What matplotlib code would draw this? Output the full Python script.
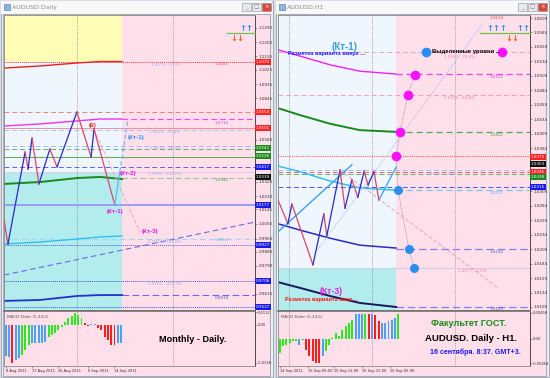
import matplotlib
matplotlib.use('Agg')
import matplotlib.pyplot as plt
from matplotlib.patches import Rectangle

W, H = 550, 378

# ---------------- left window : AUDUSD Daily ----------------
d_xlim = (-0.5, 75.6)
d_ylim = (0.95118, 1.13703)
d_hist_end = 35.3
d_yellow_from = 1.1074
d_teal_to = 1.0381
d_yticks = [1.1290, 1.1200, 1.1110, 1.1025, 1.0935, 1.0845, 1.0585, 1.0320,
            1.0230, 1.0145, 1.0055, 0.9960, 0.9880, 0.9790, 0.9615]

# zigzag of the daily swing
d_zz_x = [-0.5, 0.7, 5.9, 6.8, 8.0, 10.1, 13.4, 15.6, 21.6, 25.9, 26.8, 33.1]
d_zz_y = [1.0079, 0.9927, 1.0507, 1.0400, 1.0595, 1.0306, 1.0526, 1.0413,
          1.0759, 1.0476, 1.0652, 1.0173]
d_kt_x = [33.1, 34.6, 37.1]
d_kt_y = [1.0173, 1.0381, 1.0715]
d_proj_x = [26.8, 40.7]
d_proj_y = [1.0652, 1.0003]
d_diag_x = [-0.5, 75.6]
d_diag_y = [0.9732, 1.0066]

# moving averages
d_ma_x = [-0.5, 10.4, 21.6, 28.6, 35.3]
d_ma_red = [1.1036, 1.1049, 1.1068, 1.1077, 1.1077]
d_ma_mag = [1.0671, 1.0684, 1.0703, 1.0715, 1.0715]
d_ma_grn = [1.0306, 1.0318, 1.0343, 1.0350, 1.0337]
d_ma_cyn = [0.9928, 0.9940, 0.9959, 0.9972, 0.9978]
d_ma_nav = [0.9569, 0.9575, 0.9600, 0.9606, 0.9606]

# horizontal levels
d_levels = [1.1074, 1.0759, 1.0715, 1.0658, 1.0646, 1.0545, 1.0526, 1.0476,
            1.0413, 1.0381, 1.0343, 1.0173, 0.9959, 0.9921, 0.9695, 0.9606, 0.9531]

# MACD Elder histogram
d_macd = [-0.0276, -0.0282, -0.0341, -0.0311, -0.0297, -0.0267, -0.0223, -0.0178,
          -0.0164, -0.0164, -0.0164, -0.0164, -0.0149, -0.0104, -0.0089, -0.0074,
          -0.0044, -0.0015, 0.0030, 0.0059, 0.0080, 0.0103, 0.0089, 0.0059,
          0.0021, -0.0008, 0.0009, 0.0007, -0.0029, -0.0044, -0.0104, -0.0133,
          -0.0178, -0.0178, -0.0164, -0.0164]
d_macd_c = list('bbrbbgggbbbbbgggggggggggrrbbrrrrrrbb')
d_macd_lim = (-0.0365, 0.01246)
d_macd_ticks = [0.0112, 0.0, -0.0338]
d_macd_labels = ['0.0112', '0.00', '-0.0338']
d_dates_x = [0, 8, 16, 25, 33]
d_dates = ['8 Aug 2011', '17 Aug 2011', '26 Aug 2011', '6 Sep 2011', '14 Sep 2011']
d_vgrid = [21.6, 50.7]

# ---------------- right window : AUDUSD H1 ----------------
h_xlim = (-0.5, 75.9)
h_ylim = (1.01038, 1.06142)
h_hist_end = 35.3
h_teal_to = 1.01765
h_yticks = [1.0609, 1.0584, 1.0559, 1.0534, 1.0509, 1.0484, 1.0459, 1.0434, 1.0409,
            1.0384, 1.0309, 1.0284, 1.0259, 1.0234, 1.0209, 1.0184, 1.0159, 1.0134, 1.0109]

h_zz_x = [-0.5, 2.5, 3.7, 10.1, 13.4, 14.3, 18.3, 19.8, 21.9, 23.7, 25.6, 26.8, 28.6, 30.1]
h_zz_y = [1.0294, 1.0253, 1.0287, 1.0182, 1.0270, 1.0232, 1.0346, 1.0280,
          1.0329, 1.0299, 1.0344, 1.0320, 1.0343, 1.0294]
h_trend_x = [-0.5, 21.9]
h_trend_y = [1.0239, 1.0355]
h_up_x = [30.1, 35.3]
h_up_y = [1.0294, 1.0351]
h_dot_line_x = [11.6, 61.3]
h_dot_line_y = [1.0208, 1.0597]
h_proj_x = [18.3, 66.2]
h_proj_y = [1.0346, 1.0142]

h_ma_x = [-0.5, 6.2, 15.3, 24.3, 35.3]
h_ma_mag = [1.0554, 1.0543, 1.0528, 1.0517, 1.0512]
h_ma_grn = [1.0453, 1.0441, 1.0426, 1.0415, 1.0412]
h_ma_cyn = [1.0353, 1.0343, 1.0327, 1.0315, 1.0311]
h_ma_blu = [1.0253, 1.0242, 1.0228, 1.0216, 1.0211]
h_ma_nav = [1.0152, 1.0142, 1.0128, 1.0116, 1.0109]

h_levels = [1.0550, 1.0512, 1.0476, 1.0412, 1.0370, 1.0346, 1.0343, 1.0339,
            1.0317, 1.0311, 1.0209, 1.01765, 1.0109]

# highlighted levels (circles)
h_mag_x = [41.0, 38.9, 36.5, 35.3]
h_mag_y = [1.0510, 1.0476, 1.0412, 1.0370]
h_blu_x = [35.9, 39.2, 40.7]
h_blu_y = [1.0311, 1.0209, 1.01765]

h_macd = [-0.00256, -0.00134, -0.00104, -0.00073, -0.00043, -0.00043, -0.00104, -0.00024,
          -0.00195, -0.00317, -0.00409, -0.00439, -0.00439, -0.00317, -0.00226, -0.00104,
          0.00018, 0.0011, 0.0005, 0.0017, 0.0023, 0.0029, 0.0035, 0.0045,
          0.0045, 0.0045, 0.0045, 0.0045, 0.0046, 0.0043, 0.0032, 0.0029,
          0.0029, 0.0032, 0.0035, 0.0038, 0.0045]
h_macd_c = list('ggggggbgrrrrrbgggggggggbbbgrbrrbbbbbg')
h_macd_lim = (-0.00494, 0.00512)
h_macd_ticks = [0.00476, 0.0, -0.0044]
h_macd_labels = ['0.00458', '0.00', '-0.00458']
h_dates_x = [0, 8.5, 16.5, 25, 33.5]
h_dates = ['14 Sep 2011', '15 Sep 05:00', '15 Sep 13:00', '15 Sep 21:00', '16 Sep 05:00']
h_vgrid = [2.8, 28.0, 53.1]

PINK = '#ffdfea'
ALICE = '#f0f6fe'
YELLOW = '#fffdb6'
TEAL = '#b2ecec'
MACD_COL = {'b': '#4aa2f2', 'r': '#ff1c1c', 'g': '#2ee81e'}
UP = '#2a2ac8'
DOWN = '#dc4468'


def frac(x0, y0, x1, y1):
    return [x0 / W, 1 - y1 / H, (x1 - x0) / W, (y1 - y0) / H]


def style_axes(ax, xlim, ylim):
    ax.set_xlim(*xlim)
    ax.set_ylim(*ylim)
    ax.set_facecolor(PINK)
    ax.yaxis.tick_right()
    ax.tick_params(axis='both', labelsize=3, length=1.5, width=0.4, pad=1,
                   colors='#555555', labelcolor='#303030')
    for s in ax.spines.values():
        s.set_color('#8a8a8a')
        s.set_linewidth(0.6)
    ax.spines['right'].set_color('#303030')


def draw_zigzag(ax, xs, ys):
    for i in range(len(xs) - 1):
        col = UP if ys[i + 1] > ys[i] else DOWN
        ax.plot(xs[i:i + 2], ys[i:i + 2], color=col, lw=0.9, zorder=4)


def draw_macd(ax, vals, cols, xlim, ylim, ticks, labels, dx, dlabels, vgrid):
    style_axes(ax, xlim, ylim)
    ax.bar(range(len(vals)), vals, width=0.6, color=[MACD_COL[c] for c in cols], zorder=3)
    ax.set_yticks(ticks)
    ax.set_yticklabels(labels)
    ax.set_xticks(dx)
    ax.set_xticklabels(dlabels)
    ax.tick_params(axis='both', labelsize=2.6, pad=0.8)
    for lab in ax.get_xticklabels():
        lab.set_ha('left')
    ax.spines['top'].set_color('#707070')
    ax.spines['top'].set_linewidth(1.2)
    for v in vgrid:
        ax.axvline(v, color='#707070', ls=(0, (1, 1.5)), lw=0.5, zorder=1)
    ax.text(0.01, 0.93, 'MACD Elder (5,34,5)', transform=ax.transAxes, fontsize=3,
            color='#555555', va='top')


fig = plt.figure(figsize=(5.5, 3.78), dpi=100)
fig.patch.set_facecolor('#d9dee6')

bg = fig.add_axes([0, 0, 1, 1])
bg.set_xlim(0, W)
bg.set_ylim(H, 0)
bg.axis('off')
for wx0, wx1, title in [(0, 273, 'AUDUSD Daily'), (275, 549, 'AUDUSD,H1')]:
    bg.add_patch(Rectangle((wx0 + 0.5, 0.5), wx1 - wx0 - 1, 376.5, fc='#eceef2', ec='#9aa3b3', lw=0.6))
    bg.add_patch(Rectangle((wx0 + 1, 1), wx1 - wx0 - 2, 12.5, fc='#f8f8f9', ec='none'))
    bg.add_patch(Rectangle((wx0 + 3, 14), wx1 - wx0 - 6, 362, fc=PINK, ec='#8a8f99', lw=0.5))
    bg.add_patch(Rectangle((wx0 + 4, 3.5), 5.5, 6.5, fc='#8fb4e0', ec='#4a6fa0', lw=0.4))
    bg.text(wx0 + 12, 7.5, title, fontsize=4.5, color='#8c8c8c', va='center')
    for k, bx in enumerate([wx1 - 31, wx1 - 21, wx1 - 11]):
        bg.add_patch(Rectangle((bx, 2.5), 9, 8.5, fc='#d9463c' if k == 2 else '#e8eaee',
                               ec='#8a8f99', lw=0.4))
        bg.text(bx + 4.5, 7, ['_', '□', '×'][k], fontsize=4,
                color='white' if k == 2 else '#777777', ha='center', va='center')

# ================= left main chart =================
ax = fig.add_axes(frac(4, 15, 255, 310))
style_axes(ax, d_xlim, d_ylim)
ax.set_xticks([])
ax.set_yticks([t for t in d_yticks])
ax.set_yticklabels([f'{t:.4f}' for t in d_yticks])
ax.add_patch(Rectangle((d_xlim[0], d_yellow_from), d_hist_end - d_xlim[0], d_ylim[1] - d_yellow_from,
                       fc=YELLOW, ec='none', zorder=0))
ax.add_patch(Rectangle((d_xlim[0], d_teal_to), d_hist_end - d_xlim[0], d_yellow_from - d_teal_to,
                       fc=ALICE, ec='none', zorder=0))
ax.add_patch(Rectangle((d_xlim[0], d_ylim[0]), d_hist_end - d_xlim[0], d_teal_to - d_ylim[0],
                       fc=TEAL, ec='none', zorder=0))
for v in d_vgrid:
    ax.axvline(v, color='#707070', ls=(0, (1, 1.5)), lw=0.5, zorder=1)

# (colour, linestyle, width, starts at history end?)
d_level_styles = [
    ('#ff3030', (0, (1, 1)), 0.7, False),
    ('#f08080', (0, (5, 3)), 0.7, False),
    ('#ff40ff', (0, (5, 3)), 0.8, True),
    ('#f08c9c', '-', 0.7, False),
    ('#b4c4f6', (0, (5, 3)), 0.7, False),
    ('#a8bcf6', (0, (5, 3)), 0.7, False),
    ('#6cb06c', (0, (5, 3)), 0.7, False),
    ('#5aa85a', '-', 0.7, False),
    ('#6060f0', (0, (5, 3)), 0.7, False),
    ('#e6c8dc', '-', 0.7, False),
    ('#98c898', (0, (5, 3)), 0.8, True),
    ('#9c9cf4', '-', 1.4, False),
    ('#a6d2f2', (0, (5, 3)), 0.8, False),
    ('#5858e0', (0, (1, 1)), 0.7, False),
    ('#5050d0', (0, (1, 1)), 0.7, False),
    ('#6a6ae6', (0, (6, 3)), 0.8, True),
    ('#5050d0', (0, (1, 1)), 0.7, False),
]
for p, (c, ls, lw, fut) in zip(d_levels, d_level_styles):
    ax.plot([d_hist_end if fut else d_xlim[0], d_xlim[1]], [p, p], color=c, ls=ls, lw=lw, zorder=1)

ax.plot(d_ma_x, d_ma_red, color='#e82020', lw=1.0, zorder=2)
ax.plot(d_ma_x, d_ma_mag, color='#f030f0', lw=1.0, zorder=2)
ax.plot(d_ma_x, d_ma_grn, color='#178a17', lw=1.4, zorder=2)
ax.plot(d_ma_x, d_ma_cyn, color='#30c0f0', lw=1.0, zorder=2)
ax.plot(d_ma_x, d_ma_nav, color='#2230c8', lw=1.3, zorder=2)
ax.plot(d_diag_x, d_diag_y, color='#6a6ae6', ls=(0, (5, 3)), lw=0.8, zorder=2)
ax.plot(d_proj_x, d_proj_y, color='#f4a0c0', ls=(0, (4, 2)), lw=0.7, zorder=3)
draw_zigzag(ax, d_zz_x, d_zz_y)
ax.plot(d_kt_x[:2], d_kt_y[:2], color='#60b8f4', lw=0.9, zorder=4)
ax.plot(d_kt_x[1:], d_kt_y[1:], color='#60b8f4', ls=(0, (4, 2)), lw=0.8, zorder=4)

axm = fig.add_axes(frac(4, 311, 255, 366))
draw_macd(axm, d_macd, d_macd_c, d_xlim, d_macd_lim, d_macd_ticks, d_macd_labels,
          d_dates_x, d_dates, d_vgrid)

# ================= right main chart =================
ax2 = fig.add_axes(frac(278, 15, 530, 310))
style_axes(ax2, h_xlim, h_ylim)
ax2.set_xticks([])
ax2.set_yticks(h_yticks)
ax2.set_yticklabels([f'{t:.4f}' for t in h_yticks])
ax2.add_patch(Rectangle((h_xlim[0], h_teal_to), h_hist_end - h_xlim[0], h_ylim[1] - h_teal_to,
                        fc=ALICE, ec='none', zorder=0))
ax2.add_patch(Rectangle((h_xlim[0], h_ylim[0]), h_hist_end - h_xlim[0], h_teal_to - h_ylim[0],
                        fc=TEAL, ec='none', zorder=0))
for v in h_vgrid:
    ax2.axvline(v, color='#707070', ls=(0, (1, 1.5)), lw=0.5, zorder=1)

h_level_styles = [
    ('#f4a0c4', (0, (5, 3)), 0.7, False),
    ('#f040f0', (0, (5, 3)), 0.9, True),
    ('#f4a0c4', (0, (5, 3)), 0.7, False),
    ('#58a858', (0, (5, 3)), 0.9, True),
    ('#ff6060', (0, (1, 1)), 0.8, False),
    ('#a8bcf6', (0, (5, 3)), 0.7, False),
    ('#f06060', (0, (5, 3)), 0.7, False),
    ('#60b060', (0, (5, 3)), 0.7, False),
    ('#5050f0', (0, (5, 3)), 0.7, False),
    ('#7cc8f0', (0, (5, 3)), 0.9, True),
    ('#8080e8', (0, (6, 3)), 0.9, True),
    ('#cfcfd8', '-', 0.7, False),
    ('#8080e8', (0, (6, 3)), 0.9, True),
]
for p, (c, ls, lw, fut) in zip(h_levels, h_level_styles):
    ax2.plot([h_hist_end if fut else h_xlim[0], h_xlim[1]], [p, p], color=c, ls=ls, lw=lw, zorder=1)

ax2.plot(h_ma_x, h_ma_mag, color='#f020f0', lw=1.0, zorder=2)
ax2.plot(h_ma_x, h_ma_grn, color='#178a17', lw=1.4, zorder=2)
ax2.plot(h_ma_x, h_ma_cyn, color='#30c0f0', lw=1.1, zorder=2)
ax2.plot(h_ma_x, h_ma_blu, color='#2a2ac0', lw=1.1, zorder=2)
ax2.plot(h_ma_x, h_ma_nav, color='#18185a', lw=1.4, zorder=2)
ax2.plot(h_dot_line_x, h_dot_line_y, color='#80b8f0', ls=(0, (1, 1.5)), lw=0.7, zorder=2)
ax2.plot(h_proj_x, h_proj_y, color='#f4a0c0', ls=(0, (4, 2)), lw=0.7, zorder=2)
ax2.plot(h_trend_x, h_trend_y, color='#3aa0f0', lw=1.0, zorder=3)
draw_zigzag(ax2, h_zz_x, h_zz_y)
ax2.plot(h_up_x, h_up_y, color='#3aa0f0', lw=0.9, zorder=4)
path_x = h_blu_x[::-1] + h_mag_x[::-1]
path_y = h_blu_y[::-1] + h_mag_y[::-1]
ax2.plot(path_x, path_y, color='#888888', ls=(0, (1, 1.2)), lw=0.6, zorder=4)
ax2.plot(h_mag_x, h_mag_y, 'o', color='#ff10ff', ms=7, mec='none', zorder=5)
ax2.plot(h_blu_x, h_blu_y, 'o', color='#2b8ff0', ms=6.5, mec='none', zorder=5)
ax2.plot([44.3], [1.0550], 'o', color='#2b8ff0', ms=7, mec='none', zorder=5)
ax2.plot([67.4], [1.0550], 'o', color='#ff10ff', ms=7, mec='none', zorder=5)

axm2 = fig.add_axes(frac(278, 311, 530, 366))
draw_macd(axm2, h_macd, h_macd_c, h_xlim, h_macd_lim, h_macd_ticks, h_macd_labels,
          h_dates_x, h_dates, h_vgrid)

# ================= overlay texts (pixel coordinates) =================
ov = fig.add_axes([0, 0, 1, 1])
ov.set_xlim(0, W)
ov.set_ylim(H, 0)
ov.axis('off')
ov.patch.set_alpha(0)

boxes = [
    (256, 62, '1.1079', '#ff2020'), (256, 112, '1.0654', '#ff2020'),
    (256, 128, '1.0601', '#ff2020'), (256, 148, '1.0542', '#1a8a1a'),
    (256, 156, '1.0526', '#1a8a1a'), (256, 167, '1.0417', '#1a1aee'),
    (256, 177, '1.0339', '#101010'), (256, 205, '1.0177', '#1a1aee'),
    (256, 245, '0.9927', '#1a1aee'), (256, 281, '0.9706', '#1a1aee'),
    (256, 307, '0.9537', '#1a1aee'),
    (531, 157, '1.0375', '#ff2020'), (531, 164, '1.0363', '#101010'),
    (531, 172, '1.0346', '#ff2020'), (531, 177, '1.0338', '#1a8a1a'),
    (531, 187, '1.0315', '#1a1aee'),
]
for x, y, t, c in boxes:
    ov.text(x, y, t, fontsize=3, color='white', ha='left', va='center',
            bbox=dict(boxstyle='square,pad=0.25', fc=c, ec='none'))

level_texts = [
    (165, 65, '1.1079 - 0.0%', '#9aaae8'), (222, 64, '1.1082', '#ff5050'),
    (222, 123, '1.0715', '#e040e0'), (165, 132, '1.0622 - 61.8%', '#9aaae8'),
    (165, 148, '1.0513 - 76.4%', '#9aaae8'), (165, 174, '1.0390 - 100.0%', '#9aaae8'),
    (222, 180, '1.0348', '#50a050'), (222, 240, '0.9955', '#60b8e8'),
    (165, 242, '0.9947 - 161.8%', '#9aaae8'), (165, 284, '0.9701 - 200.0%', '#9aaae8'),
    (222, 298, '0.9614', '#5050d0'),
    (497, 18, '1.0614', '#ff4040'), (460, 57, '1.0567 - 76.4%', '#f080b0'),
    (497, 77, '1.0512', '#e040e0'), (460, 98, '1.0476 - 61.8%', '#f080b0'),
    (497, 135, '1.0412', '#40a040'), (440, 174, '1.0346 - 0.0%', '#9aaae8'),
    (497, 193, '1.0311', '#50b0e8'), (497, 252, '1.0210', '#5050d0'),
    (472, 271, '1.0177 - 0.0%', '#f080b0'), (497, 309, '1.0105', '#5050d0'),
]
for x, y, t, c in level_texts:
    ov.text(x, y, t, fontsize=3, color=c, ha='center', va='center')

BOLD = dict(family='Liberation Sans', weight='bold')
ov.text(93, 126, '(В)', fontsize=4, color='#e02020', ha='center', va='center', **BOLD)
ov.text(136, 138, '(Кт-1)', fontsize=4.5, color='#3090ff', ha='center', va='center', **BOLD)
ov.text(128, 173, '(Кт-2)', fontsize=4.5, color='#ee10ee', ha='center', va='center', **BOLD)
ov.text(115, 211, '(Кт-1)', fontsize=4.5, color='#ee10ee', ha='center', va='center', **BOLD)
ov.text(150, 231, '(Кт-3)', fontsize=4.5, color='#ee10ee', ha='center', va='center', **BOLD)
ov.text(192.5, 340, 'Monthly - Daily.', fontsize=6.6, color='black', ha='center', va='center', **BOLD)

ov.text(345, 47, '(Кт-1)', fontsize=7, color='#3a9be8', ha='center', va='center', **BOLD)
ov.text(288, 53, 'Разметка варианта вверх ...', fontsize=4.1, color='#1a1aff', ha='left', va='center', **BOLD)
ov.text(432, 52, 'Выделенные уровни ...', fontsize=4.3, color='black', ha='left', va='center', **BOLD)
ov.text(331, 292, '(Кт-3)', fontsize=6.2, color='#e020e0', ha='center', va='center', **BOLD)
ov.text(285, 300, 'Разметка варианта вниз...', fontsize=4.1, color='#ff1010', ha='left', va='center', **BOLD)
ov.text(469, 324, 'Факультет ГОСТ.', fontsize=6.6, color='#1a8a1a', ha='center', va='center', **BOLD)
ov.text(471, 338.5, 'AUDUSD. Daily - H1.', fontsize=6.8, color='black', ha='center', va='center', **BOLD)
ov.text(475.5, 352.5, '16 сентября. 8:37. GMT+3.', fontsize=5.1, color='#1a1aff', ha='center', va='center', **BOLD)

# arrows in the top right corners
for gx0, gx1, ups, downs in [(227, 255, [(246, '↑↑')], [(237, '↓↓')]),
                             (480, 530, [(497, '↑↑↑'), (523, '↑↑')], [(512, '↓↓')])]:
    ov.plot([gx0, gx1], [33, 33], color='#70c050', lw=0.9)
    for ux, t in ups:
        ov.text(ux, 28.5, t, fontsize=6, color='#3a8ee8', ha='center', va='center', weight='bold')
    for dx, t in downs:
        ov.text(dx, 38.5, t, fontsize=6, color='#ff5a1a', ha='center', va='center', weight='bold')

fig.savefig('out.png', dpi=100, facecolor=fig.get_facecolor())
